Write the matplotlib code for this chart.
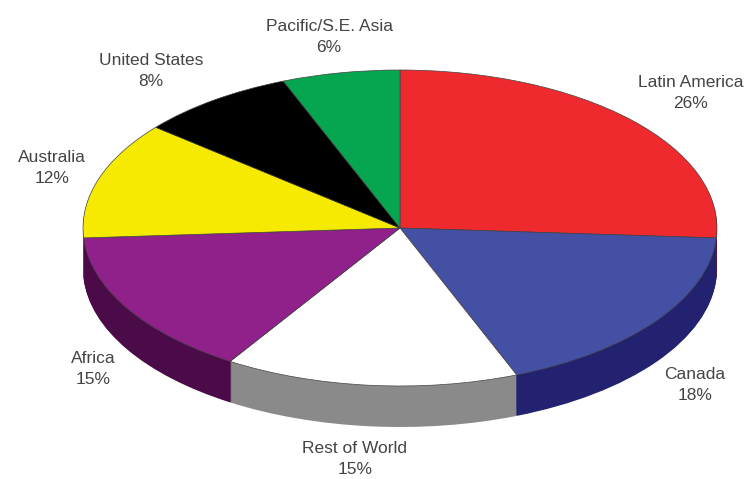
import matplotlib
matplotlib.use('Agg')
import matplotlib.pyplot as plt

labels = ['Latin America', 'Canada', 'Rest of World', 'Africa', 'Australia', 'United States', 'Pacific/S.E. Asia']
shares = [26, 18, 15, 15, 12, 8, 6]
top_colors = ['#ee2a2e', '#4450a4', '#ffffff', '#90208a', '#f6ea00', '#000000', '#06a650']
side_colors = ['#7a1416', '#232270', '#8a8a8a', '#4b0a48', '#807a02', '#000000', '#03552a']
# where the labels sit, in figure pixels
label_x = [691, 695, 355, 93, 52, 151, 329]
label_y = [93, 385, 459, 369, 168, 71, 37]

W, H = 744, 479
cx, cy = 400, 228
rx, ry = 317, 158
depth = 41

plt.rcParams['font.family'] = ['Liberation Sans', 'DejaVu Sans']

fig = plt.figure(figsize=(W / 100, H / 100), dpi=100)
ax = fig.add_axes([0, 0, 1, 1])

# stack the side colour downwards, then the top face over it
for k in range(depth, 0, -1):
    ax.pie(shares, colors=side_colors, startangle=90, counterclock=False,
           center=(0, -k / ry), radius=1, frame=False)
wedges, _ = ax.pie(shares, colors=top_colors, startangle=90, counterclock=False,
                   center=(0, 0), radius=1, frame=False,
                   wedgeprops={'edgecolor': '#444444', 'linewidth': 0.5})

ax.set_aspect('auto')
ax.set_xlim(-cx / rx, (W - cx) / rx)
ax.set_ylim(-(H - cy) / ry, cy / ry)
ax.axis('off')

for name, share, x, y in zip(labels, shares, label_x, label_y):
    fig.text(x / W, 1 - y / H, '%s\n%d%%' % (name, share), ha='center', va='center',
             fontsize=12.5, color='#444444', linespacing=1.45)

fig.savefig('out.png', dpi=100)
